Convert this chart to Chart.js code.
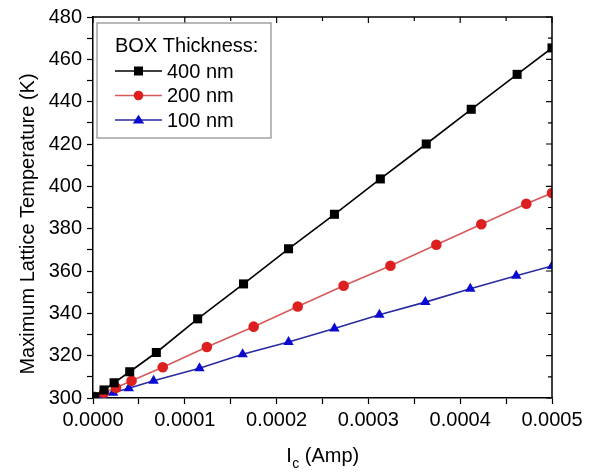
<!DOCTYPE html>
<html>
<head>
<meta charset="utf-8">
<script src="https://cdn.jsdelivr.net/npm/chart.js@4/dist/chart.umd.min.js"></script>
<style>
  html, body { margin: 0; padding: 0; background: #fff; }
  #wrap { width: 595px; height: 475px; }
</style>
</head>
<body>
<div id="wrap"><canvas id="c" width="595" height="475"></canvas></div>
<script>
// Collector current (A) and maximum lattice temperature (K) for each BOX thickness
const seriesNames = ['400 nm', '200 nm', '100 nm'];

const ic400 = [0.000002, 0.000012, 0.000023, 0.000040, 0.000069, 0.000114, 0.000164, 0.000213, 0.000263, 0.000313, 0.000363, 0.000412, 0.000462, 0.000500];
const temp400 = [300.6, 303.8, 307.2, 312.4, 321.5, 337.4, 353.9, 370.5, 386.8, 403.5, 420.0, 436.4, 452.9, 465.4];

const ic200 = [0.000002, 0.000012, 0.000025, 0.000042, 0.000076, 0.000124, 0.000175, 0.000223, 0.000273, 0.000324, 0.000374, 0.000423, 0.000472, 0.000500];
const temp200 = [300.4, 302.5, 304.8, 308.1, 314.5, 324.1, 333.7, 343.2, 353.0, 362.5, 372.4, 382.1, 391.8, 396.8];

const ic100 = [0.000002, 0.000011, 0.000022, 0.000039, 0.000066, 0.000116, 0.000163, 0.000213, 0.000263, 0.000312, 0.000362, 0.000411, 0.000461, 0.000500];
const temp100 = [300.3, 301.4, 302.5, 304.6, 308.1, 314.1, 320.7, 326.5, 332.8, 339.3, 345.3, 351.6, 357.8, 362.4];

// Axis ticks: labelled majors, unlabelled minors in between
const xMajorTicks = [0, 0.0001, 0.0002, 0.0003, 0.0004, 0.0005];
const xMajorLabels = ['0.0000', '0.0001', '0.0002', '0.0003', '0.0004', '0.0005'];
const xMinorTicks = [0.00005, 0.00015, 0.00025, 0.00035, 0.00045];
const yMajorTicks = [300, 320, 340, 360, 380, 400, 420, 440, 460, 480];
const yMinorTicks = [310, 330, 350, 370, 390, 410, 430, 450, 470];

const legendTitle = 'BOX Thickness:';
const xTitleMain = 'I';
const xTitleSub = 'c';
const xTitleRest = ' (Amp)';
const yTitle = 'Maximum Lattice Temperature (K)';

const FONT = '"Liberation Sans", Arial, Helvetica, sans-serif';

function pairs(xs, ys) { return xs.map((x, i) => ({ x: x, y: ys[i] })); }

const styles = [
  { line: '#000000', fill: '#000000', shape: 'rect', radius: 6.4, legendR: 4.5 },
  { line: '#d65a5a', fill: '#dd1f1f', shape: 'circle', radius: 5.3, legendR: 4.8 },
  { line: '#2a2aa0', fill: '#0a0ad0', shape: 'triangle', radius: 6, legendR: 5.2 }
];
const seriesData = [pairs(ic400, temp400), pairs(ic200, temp200), pairs(ic100, temp100)];

const datasets = seriesNames.map((name, i) => ({
  label: name,
  data: seriesData[i],
  borderColor: styles[i].line,
  backgroundColor: styles[i].fill,
  pointBackgroundColor: styles[i].fill,
  pointBorderColor: styles[i].fill,
  pointStyle: styles[i].shape,
  pointRadius: styles[i].radius,
  pointBorderWidth: 0,
  borderWidth: 1.6,
  tension: 0
}));

function drawMarker(ctx, shape, r, x, y) {
  if (shape === 'rect') {
    ctx.rect(x - r, y - r, 2 * r, 2 * r);
  } else if (shape === 'circle') {
    ctx.arc(x, y, r, 0, Math.PI * 2);
  } else {
    ctx.moveTo(x, y - r);
    ctx.lineTo(x + r * 1.1, y + r * 0.65);
    ctx.lineTo(x - r * 1.1, y + r * 0.65);
    ctx.closePath();
  }
}

// Frame (top/right), inward ticks on the top and right sides, axis titles, legend box
const decorPlugin = {
  id: 'decor',
  afterDraw(chart) {
    const ctx = chart.ctx;
    const a = chart.chartArea;
    const xs = chart.scales.x, ys = chart.scales.y;
    ctx.save();
    ctx.strokeStyle = '#000';
    ctx.lineWidth = 1.5;
    ctx.beginPath();
    ctx.moveTo(a.left, a.top); ctx.lineTo(a.right, a.top); ctx.lineTo(a.right, a.bottom);
    ctx.stroke();
    ctx.lineWidth = 1.2;
    ctx.beginPath();
    xMajorTicks.concat(xMinorTicks).forEach(v => {
      const px = xs.getPixelForValue(v);
      const len = xMajorTicks.includes(v) ? 6 : 4;
      ctx.moveTo(px, a.top); ctx.lineTo(px, a.top + len);
    });
    yMajorTicks.concat(yMinorTicks).forEach(v => {
      const py = ys.getPixelForValue(v);
      const len = yMajorTicks.includes(v) ? 6 : 4;
      ctx.moveTo(a.right, py); ctx.lineTo(a.right - len, py);
    });
    ctx.stroke();

    // x axis title with subscript
    ctx.fillStyle = '#000';
    ctx.textBaseline = 'alphabetic';
    ctx.font = '20px ' + FONT;
    const wMain = ctx.measureText(xTitleMain).width;
    const wRest = ctx.measureText(xTitleRest).width;
    ctx.font = '14px ' + FONT;
    const wSub = ctx.measureText(xTitleSub).width;
    const total = wMain + wSub + wRest;
    const x0 = (a.left + a.right) / 2 - total / 2;
    const base = 462;
    ctx.font = '20px ' + FONT;
    ctx.fillText(xTitleMain, x0, base);
    ctx.font = '14px ' + FONT;
    ctx.fillText(xTitleSub, x0 + wMain + 0.5, base + 6);
    ctx.font = '20px ' + FONT;
    ctx.fillText(xTitleRest, x0 + wMain + wSub + 0.5, base);

    // y axis title, rotated
    ctx.save();
    ctx.translate(34, 224);
    ctx.rotate(-Math.PI / 2);
    ctx.textAlign = 'center';
    ctx.fillText(yTitle, 0, 0);
    ctx.restore();

    // legend
    const bx = 97, by = 23, bw = 174, bh = 115;
    ctx.fillStyle = '#fff';
    ctx.fillRect(bx, by, bw, bh);
    ctx.strokeStyle = '#8a8a8a';
    ctx.lineWidth = 1.2;
    ctx.strokeRect(bx, by, bw, bh);
    ctx.fillStyle = '#000';
    ctx.font = '20px ' + FONT;
    ctx.textBaseline = 'middle';
    ctx.fillText(legendTitle, 115, 46);
    chart.data.datasets.forEach((ds, i) => {
      const ry = 71 + i * 24.5;
      ctx.strokeStyle = ds.borderColor;
      ctx.lineWidth = ds.borderWidth;
      ctx.beginPath(); ctx.moveTo(115, ry); ctx.lineTo(162, ry); ctx.stroke();
      ctx.fillStyle = ds.pointBackgroundColor;
      ctx.beginPath();
      drawMarker(ctx, ds.pointStyle, styles[i].legendR, 138.5, ry);
      ctx.fill();
      ctx.fillStyle = '#000';
      ctx.fillText(ds.label, 167, ry + 1);
    });
    ctx.restore();
  }
};

new Chart(document.getElementById('c'), {
  type: 'line',
  data: { datasets: datasets },
  plugins: [decorPlugin],
  options: {
    responsive: false,
    animation: false,
    layout: { padding: { left: 0, right: 43, top: 15, bottom: 0 } },
    plugins: { legend: { display: false }, tooltip: { enabled: false } },
    scales: {
      x: {
        type: 'linear',
        min: 0, max: 0.0005,
        afterBuildTicks: s => { s.ticks = xMajorTicks.concat(xMinorTicks).sort((a, b) => a - b).map(v => ({ value: v })); },
        afterFit: s => { s.height = 77; },
        border: { display: true, color: '#000', width: 1.5 },
        grid: {
          drawOnChartArea: false, drawTicks: true, tickLength: 6,
          tickColor: '#000', tickWidth: 1.2
        },
        ticks: {
          autoSkip: false, maxRotation: 0, padding: 4,
          color: '#000', font: { family: FONT, size: 20 },
          callback: v => { const k = xMajorTicks.findIndex(t => Math.abs(t - v) < 1e-9); return k >= 0 ? xMajorLabels[k] : ''; }
        }
      },
      y: {
        type: 'linear',
        min: 300, max: 480,
        afterBuildTicks: s => { s.ticks = yMajorTicks.concat(yMinorTicks).sort((a, b) => a - b).map(v => ({ value: v })); },
        afterFit: s => { s.width = 93; },
        border: { display: true, color: '#000', width: 1.5 },
        grid: {
          drawOnChartArea: false, drawTicks: true, tickLength: 6,
          tickColor: '#000', tickWidth: 1.2
        },
        ticks: {
          autoSkip: false, padding: 5,
          color: '#000', font: { family: FONT, size: 20 },
          callback: v => (yMajorTicks.includes(v) ? String(v) : '')
        }
      }
    }
  }
});
</script>
</body>
</html>
